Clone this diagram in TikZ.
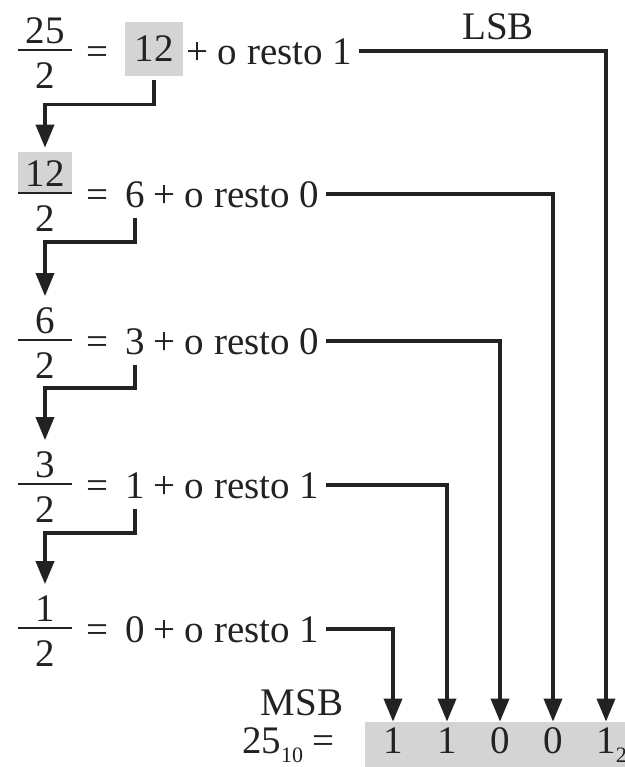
\documentclass[tikz,border=0pt]{standalone}
\usepackage{fontspec}
\setmainfont{Liberation Serif}
\usetikzlibrary{arrows.meta, positioning}

\definecolor{boxgray}{gray}{0.83}
\definecolor{ink}{HTML}{222222}

\newcommand{\lowidx}[1]{\raisebox{-4.5pt}{\fontsize{11}{11}\selectfont #1}}

\begin{document}
\begin{tikzpicture}[
    x=0.5pt, y=-0.5pt,
    every node/.style={font=\fontsize{19.5}{23}\selectfont, text=ink},
    num/.style={anchor=base, text depth=0pt},
    hl/.style={fill=boxgray, inner sep=0pt, text depth=0pt},
    rest/.style={anchor=base west, text depth=0pt},
    bit/.style={anchor=base, inner sep=0pt, text height=15.5pt, text depth=0pt},
    bar/.style={draw=ink, line width=0.7pt},
    conn/.style={-{Triangle[length=11.5pt, width=9pt]}, line width=1.8pt, draw=ink},
    next/.style={conn, shorten <=2pt, shorten >=2pt}
]
\useasboundingbox (0,0) rectangle (625,767);

% Divisions by two
\node[num] (n1) at (45,43) {25};
\node[num] (d1) at (45,88) {2};
\draw[bar] (18,50) -- (72,50);
\node[num] (e1) at (97,64) {=};
\node[hl, minimum width=29pt, minimum height=27pt] (q1) at (154,49) {12};
\node[rest] (r1) at (179,64) {+ o resto 1};

\node[num, hl, minimum width=27pt, minimum height=21pt] (n2) at (45,186) {12};
\node[num] (d2) at (45,231) {2};
\draw[bar] (18,193) -- (72,193);
\node[num] (e2) at (97,207) {=};
\node[num] (q2) at (135,207) {6};
\node[rest] (r2) at (146,207) {+ o resto 0};

\node[num] (n3) at (45,333) {6};
\node[num] (d3) at (45,378) {2};
\draw[bar] (18,340) -- (72,340);
\node[num] (e3) at (97,354) {=};
\node[num] (q3) at (135,354) {3};
\node[rest] (r3) at (146,354) {+ o resto 0};

\node[num] (n4) at (45,477) {3};
\node[num] (d4) at (45,522) {2};
\draw[bar] (18,484) -- (72,484);
\node[num] (e4) at (97,498) {=};
\node[num] (q4) at (135,498) {1};
\node[rest] (r4) at (146,498) {+ o resto 1};

\node[num] (n5) at (45,621) {1};
\node[num] (d5) at (45,666) {2};
\draw[bar] (18,628) -- (72,628);
\node[num] (e5) at (97,642) {=};
\node[num] (q5) at (135,642) {0};
\node[rest] (r5) at (146,642) {+ o resto 1};

% Result
\fill[boxgray] (365,722) rectangle (625,767);
\node[bit] (b5) at (393,753) {1};
\node[bit] (b4) at (447,753) {1};
\node[bit] (b3) at (500,753) {0};
\node[bit] (b2) at (553,753) {0};
\node[bit] (b1) at (606,753) {1\rlap{\lowidx{2}}};
\node[anchor=base east] (val) at (342,753) {25\lowidx{10} =};
\node (msb) at (302,703) {MSB};
\node (lsb) at (498,27) {LSB};

% Quotient goes on to the next row
\draw[next] (q1.south) -- ++(0,28) -| (n2.north);
\draw[next] (q2.south) -- ++(0,28) -| (n3.north);
\draw[next] (q3.south) -- ++(0,27) -| (n4.north);
\draw[next] (q4.south) -- ++(0,28) -| (n5.north);

% Remainders become the bits
\draw[conn] (r1.east) -| (b1.north);
\draw[conn] (r2.east) -| (b2.north);
\draw[conn] (r3.east) -| (b3.north);
\draw[conn] (r4.east) -| (b4.north);
\draw[conn] (r5.east) -| (b5.north);

\end{tikzpicture}
\end{document}
